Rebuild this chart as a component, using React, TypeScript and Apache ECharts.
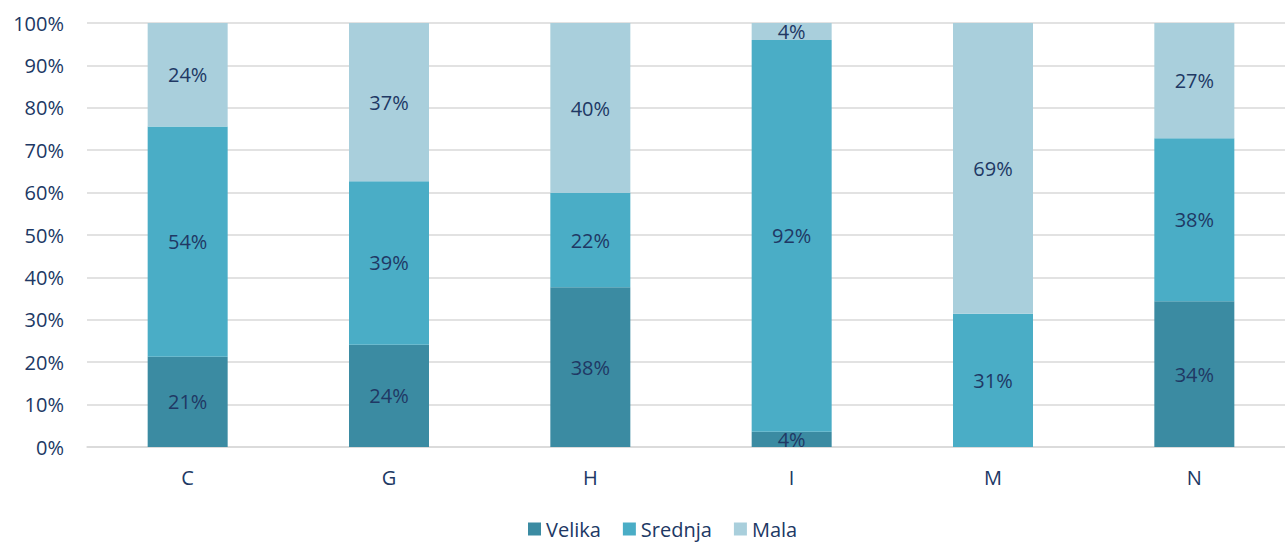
import React, { useEffect, useRef } from "react";
import * as echarts from "echarts";

const categories = ["C", "G", "H", "I", "M", "N"];
const velika = [21.3, 24.1, 37.7, 3.6, 0, 34.4];
const srednja = [54.3, 38.6, 22.2, 92.4, 31.4, 38.4];
const mala = [24.4, 37.3, 40.1, 4.0, 68.6, 27.2];
const yTicks = [0, 10, 20, 30, 40, 50, 60, 70, 80, 90, 100];

const TEXT = "#203864";
const FONT = "'Open Sans', sans-serif";

export default function App() {
  const ref = useRef<HTMLDivElement>(null);
  useEffect(() => {
    const chart = echarts.init(ref.current!, null, { renderer: "svg" });
    const mk = (name: string, data: number[], color: string) => ({
      name,
      type: "bar",
      stack: "total",
      data,
      barWidth: 80,
      itemStyle: { color },
      label: {
        show: true,
        position: "inside",
        color: TEXT,
        fontFamily: FONT,
        fontSize: 20,
        formatter: (p: any) => (p.value > 0 ? Math.round(p.value) + "%" : ""),
      },
    });
    chart.setOption({
      animation: false,
      textStyle: { fontFamily: FONT },
      grid: { left: 87, right: 0, top: 23, bottom: 98, containLabel: false },
      legend: {
        bottom: 1,
        left: 523,
        itemWidth: 13,
        itemHeight: 13,
        itemGap: 22,
        icon: "rect",
        textStyle: { color: TEXT, fontFamily: FONT, fontSize: 20 },
        data: ["Velika", "Srednja", "Mala"],
      },
      xAxis: {
        type: "category",
        data: categories,
        axisLine: { show: true, lineStyle: { color: "#D9D9D9", width: 1.5 } },
        axisTick: { show: false },
        axisLabel: { color: TEXT, fontFamily: FONT, fontSize: 20, margin: 20 },
      },
      yAxis: {
        type: "value",
        min: yTicks[0],
        max: yTicks[yTicks.length - 1],
        interval: 10,
        axisLine: { show: false },
        axisTick: { show: false },
        splitLine: { lineStyle: { color: "#D9D9D9", width: 1.5 } },
        axisLabel: {
          color: TEXT,
          fontFamily: FONT,
          fontSize: 20,
          margin: 23,
          formatter: (v: number) => v + "%",
        },
      },
      series: [
        mk("Velika", velika, "#3B8BA2"),
        mk("Srednja", srednja, "#4AADC6"),
        mk("Mala", mala, "#A9CFDC"),
      ],
    });
    return () => chart.dispose();
  }, []);
  return (
    <div style={{ position: "absolute", left: 0, top: 0, width: 1285, height: 545, overflow: "hidden", background: "#fff" }}>
      <div ref={ref} style={{ position: "absolute", left: 0, top: 0, width: 1295, height: 545 }} />
    </div>
  );
}
